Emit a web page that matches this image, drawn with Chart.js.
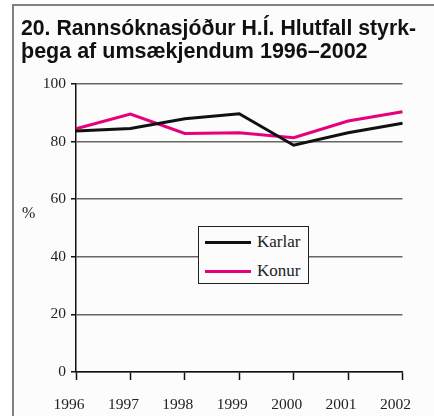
<!DOCTYPE html>
<html>
<head>
<meta charset="utf-8">
<script src="https://cdn.jsdelivr.net/npm/chart.js@4/dist/chart.umd.min.js"></script>
<style>
  body { margin: 0; background: #fff; }
  #wrap { position: relative; width: 434px; height: 416px; overflow: hidden; background: #fff; }
  #frame { position: absolute; left: 12px; top: 4px; width: 440px; height: 430px;
           border-left: 2px solid #808080; border-top: 2px solid #808080; background: #fbfcfb; }
  #myChart { position: absolute; left: 0; top: 0; }
  #legend { position: absolute; left: 198px; top: 226px; width: 111px; height: 58px; box-sizing: border-box;
            border: 1.5px solid #222; background: #fbfcfb; font-family: "Liberation Serif", serif; font-size: 17px; color: #222; }
  .item { position: absolute; left: 6px; height: 20px; }
  .item span.sw { position: absolute; left: 0; top: 9px; width: 46px; height: 3px; }
  .item span.tx { position: absolute; left: 52px; top: 0; line-height: 20px; white-space: nowrap; }
</style>
</head>
<body>
<div id="wrap">
  <div id="frame"></div>
  <canvas id="myChart" width="434" height="416"></canvas>
  <div id="legend"></div>
</div>
<script>
let years = ["1996", "1997", "1998", "1999", "2000", "2001", "2002"];
let karlar = [83.6, 84.5, 87.9, 89.6, 78.7, 83.0, 86.3];
let konur = [84.4, 89.5, 82.8, 83.0, 81.3, 87.1, 90.3];
let seriesNames = ["Karlar", "Konur"];
let seriesColors = ["#111111", "#e6007e"];
let titleLines = ["20. Rannsóknasjóður H.Í. Hlutfall styrk-", "þega af umsækjendum 1996–2002"];
let yUnit = "%";

const serif = "'Liberation Serif', 'DejaVu Serif', serif";

const unitLabel = {
  id: "unitLabel",
  afterDraw(chart) {
    const c = chart.ctx;
    c.save();
    c.font = "16px " + serif;
    c.fillStyle = "#222";
    c.textAlign = "left";
    c.textBaseline = "middle";
    c.fillText(yUnit, 22, 214);
    c.restore();
  },
};

const ctx = document.getElementById("myChart");

const chart = new Chart(ctx, {
  type: "line",
  data: {
    labels: years,
    datasets: [
      { label: seriesNames[0], data: karlar, borderColor: seriesColors[0], borderWidth: 3 },
      { label: seriesNames[1], data: konur, borderColor: seriesColors[1], borderWidth: 3 },
    ],
  },
  options: {
    responsive: false,
    animation: false,
    elements: { point: { radius: 0 }, line: { tension: 0 } },
    layout: { padding: { left: 21, right: 18, top: 0, bottom: 0 } },
    plugins: {
      legend: { display: false },
      tooltip: { enabled: false },
      title: {
        display: true,
        text: titleLines,
        align: "start",
        color: "#111",
        font: { family: "'Liberation Sans', Arial, sans-serif", size: 21.5, weight: "bold", lineHeight: 1.042 },
        padding: { top: 18, bottom: 21 },
      },
    },
    scales: {
      x: {
        offset: false,
        grid: { drawOnChartArea: false, drawTicks: true, tickLength: 8, tickColor: "#111", tickWidth: 1.5 },
        border: { color: "#111", width: 1.5 },
        ticks: { color: "#222", font: { family: serif, size: 15.5 }, padding: 16, labelOffset: -7, maxRotation: 0 },
        afterFit(scale) { scale.height = 44; },
      },
      y: {
        min: 0,
        max: 100,
        grid: { color: "#666", lineWidth: 1.5, tickLength: 5, tickColor: "#111" },
        border: { color: "#111", width: 1.5 },
        ticks: { stepSize: 20, color: "#222", font: { family: serif, size: 15.5 }, padding: 5 },
        afterFit(scale) { scale.width = 55; },
      },
    },
  },
  plugins: [unitLabel],
});

// legend box inside the plot
const legend = document.getElementById("legend");
chart.data.datasets.forEach((ds, i) => {
  const item = document.createElement("div");
  item.className = "item";
  item.style.top = (5 + i * 29) + "px";
  item.innerHTML = '<span class="sw" style="background:' + ds.borderColor + '"></span><span class="tx">' + ds.label + "</span>";
  legend.appendChild(item);
});
</script>
</body>
</html>
